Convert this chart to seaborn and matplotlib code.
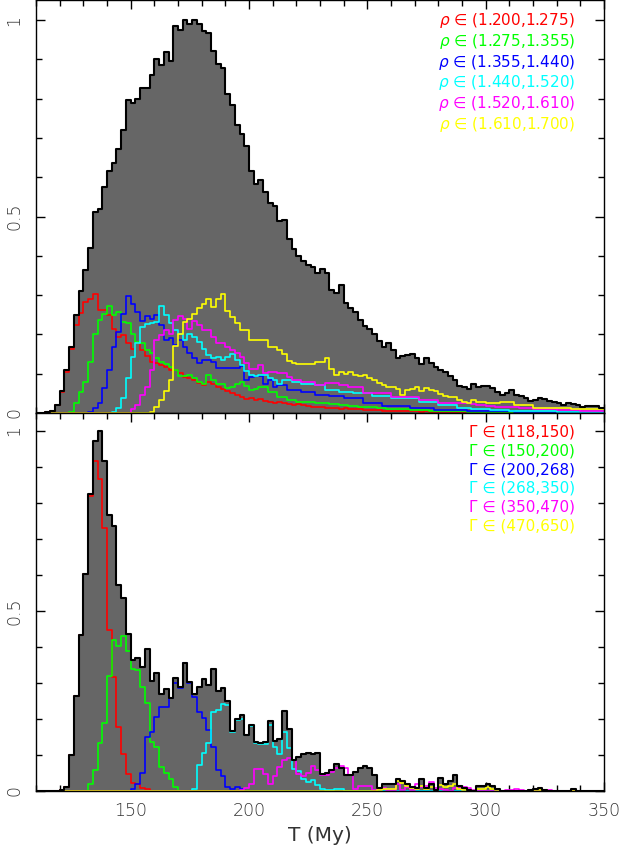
import numpy as np
import pandas as pd
import matplotlib
matplotlib.use("Agg")
import matplotlib.pyplot as plt
import seaborn as sns
from matplotlib.ticker import MultipleLocator, FixedLocator, FixedFormatter

# ---------------- data (2 My bins from 110 to 350) ----------------
bin_start = 110
bin_width = 2
n_bins = 120

# top panel: rho classes
top_total = [
    0, 0, 0.003, 0.006, 0.02, 0.055, 0.109, 0.168, 0.249, 0.311,
    0.365, 0.421, 0.511, 0.52, 0.575, 0.617, 0.636, 0.671, 0.72, 0.797,
    0.79, 0.80, 0.827, 0.826, 0.86, 0.90, 0.887, 0.92, 0.897, 0.984,
    0.975, 1.0, 0.99, 1.0, 0.99, 0.973, 0.967, 0.922, 0.888, 0.877,
    0.812, 0.785, 0.733, 0.71, 0.679, 0.615, 0.583, 0.594, 0.562, 0.535,
    0.526, 0.489, 0.49, 0.442, 0.418, 0.399, 0.386, 0.376, 0.372, 0.356,
    0.367, 0.356, 0.312, 0.306, 0.325, 0.279, 0.268, 0.256, 0.236, 0.221,
    0.215, 0.202, 0.184, 0.167, 0.177, 0.16, 0.141, 0.145, 0.147, 0.149,
    0.139, 0.126, 0.139, 0.128, 0.118, 0.109, 0.105, 0.094, 0.084, 0.069,
    0.067, 0.06, 0.075, 0.067, 0.069, 0.069, 0.063, 0.054, 0.046, 0.052,
    0.058, 0.046, 0.043, 0.039, 0.031, 0.033, 0.039, 0.035, 0.03, 0.029,
    0.025, 0.02, 0.025, 0.022, 0.02, 0.016, 0.019, 0.019, 0.018, 0.013,
]
top_red = [
    0, 0, 0.003, 0.006, 0.02, 0.054, 0.105, 0.164, 0.224, 0.255,
    0.283, 0.289, 0.302, 0.262, 0.262, 0.249, 0.213, 0.194, 0.198, 0.179,
    0.164, 0.177, 0.16, 0.145, 0.13, 0.126, 0.122, 0.118, 0.109, 0.11,
    0.102, 0.092, 0.088, 0.084, 0.077, 0.071, 0.08, 0.075, 0.065, 0.06,
    0.055, 0.05, 0.047, 0.04, 0.035, 0.038, 0.033, 0.035, 0.03, 0.028,
    0.025, 0.027, 0.025, 0.022, 0.02, 0.022, 0.02, 0.018, 0.016, 0.015,
    0.014, 0.013, 0.012, 0.013, 0.011, 0.012, 0.01, 0.009, 0.01, 0.008,
    0.008, 0.007, 0.007, 0.006, 0.006, 0.005, 0.005, 0.004, 0.005, 0.004,
    0.004, 0.003, 0.004, 0.003, 0.003, 0.003, 0.002, 0.003, 0.002, 0.002,
    0.002, 0.002, 0.002, 0.002, 0.001, 0.002, 0.001, 0.001, 0.001, 0.001,
    0.001, 0.001, 0.001, 0.001, 0.001, 0.001, 0.001, 0.001, 0.001, 0.001,
    0.001, 0.001, 0.001, 0.001, 0.001, 0.001, 0.001, 0.001, 0.001, 0.001,
]
top_green = [
    0, 0, 0, 0, 0, 0, 0, 0.003, 0.025, 0.054,
    0.08, 0.13, 0.2, 0.236, 0.253, 0.272, 0.249, 0.257, 0.232, 0.228,
    0.2, 0.18, 0.177, 0.16, 0.152, 0.139, 0.13, 0.126, 0.118, 0.109,
    0.093, 0.093, 0.098, 0.09, 0.08, 0.075, 0.097, 0.084, 0.075, 0.075,
    0.063, 0.067, 0.075, 0.08, 0.069, 0.058, 0.06, 0.067, 0.067, 0.054,
    0.054, 0.041, 0.041, 0.033, 0.033, 0.029, 0.029, 0.029, 0.029, 0.025,
    0.025, 0.025, 0.024, 0.022, 0.02, 0.02, 0.018, 0.017, 0.016, 0.016,
    0.015, 0.014, 0.013, 0.012, 0.011, 0.01, 0.01, 0.009, 0.009, 0.008,
    0.008, 0.007, 0.007, 0.006, 0.006, 0.005, 0.005, 0.005, 0.004, 0.004,
    0.004, 0.003, 0.003, 0.003, 0.003, 0.003, 0.002, 0.002, 0.002, 0.002,
    0.002, 0.002, 0.002, 0.002, 0.002, 0.002, 0.002, 0.002, 0.002, 0.002,
    0.001, 0.001, 0.001, 0.001, 0.001, 0.001, 0.001, 0.001, 0.001, 0.001,
]
top_blue = [
    0, 0, 0, 0, 0, 0, 0, 0, 0, 0,
    0, 0.003, 0.012, 0.025, 0.063, 0.109, 0.168, 0.207, 0.253, 0.297,
    0.277, 0.257, 0.235, 0.246, 0.24, 0.249, 0.224, 0.185, 0.19, 0.173,
    0.187, 0.168, 0.152, 0.139, 0.128, 0.135, 0.135, 0.13, 0.115, 0.115,
    0.115, 0.115, 0.115, 0.119, 0.084, 0.092, 0.094, 0.094, 0.075, 0.084,
    0.067, 0.071, 0.071, 0.058, 0.058, 0.058, 0.054, 0.054, 0.054, 0.046,
    0.046, 0.046, 0.043, 0.043, 0.043, 0.037, 0.037, 0.037, 0.037, 0.025,
    0.025, 0.025, 0.025, 0.018, 0.018, 0.018, 0.018, 0.018, 0.018, 0.012,
    0.012, 0.012, 0.012, 0.012, 0.008, 0.008, 0.008, 0.008, 0.008, 0.007,
    0.007, 0.006, 0.006, 0.006, 0.005, 0.005, 0.005, 0.004, 0.004, 0.004,
    0.004, 0.003, 0.003, 0.003, 0.003, 0.003, 0.002, 0.002, 0.002, 0.002,
    0.002, 0.002, 0.002, 0.002, 0.002, 0.002, 0.002, 0.002, 0.002, 0.002,
]
top_cyan = [
    0, 0, 0, 0, 0, 0, 0, 0, 0, 0,
    0, 0, 0, 0, 0, 0, 0.002, 0.012, 0.037, 0.088,
    0.143, 0.177, 0.219, 0.226, 0.228, 0.232, 0.272, 0.249, 0.228, 0.211,
    0.2, 0.186, 0.202, 0.194, 0.181, 0.164, 0.147, 0.139, 0.143, 0.136,
    0.143, 0.15, 0.135, 0.122, 0.107, 0.097, 0.094, 0.097, 0.097, 0.088,
    0.084, 0.075, 0.084, 0.084, 0.08, 0.08, 0.075, 0.075, 0.075, 0.071,
    0.071, 0.058, 0.058, 0.058, 0.054, 0.054, 0.054, 0.05, 0.05, 0.05,
    0.05, 0.043, 0.043, 0.043, 0.043, 0.037, 0.037, 0.037, 0.037, 0.037,
    0.037, 0.029, 0.029, 0.029, 0.029, 0.02, 0.02, 0.02, 0.02, 0.012,
    0.012, 0.012, 0.01, 0.01, 0.009, 0.009, 0.008, 0.008, 0.007, 0.007,
    0.006, 0.006, 0.006, 0.005, 0.005, 0.005, 0.004, 0.004, 0.004, 0.004,
    0.003, 0.003, 0.003, 0.003, 0.003, 0.003, 0.003, 0.003, 0.003, 0.003,
]
top_magenta = [
    0, 0, 0, 0, 0, 0, 0, 0, 0, 0,
    0, 0, 0, 0, 0, 0, 0, 0, 0, 0,
    0.009, 0.02, 0.046, 0.067, 0.109, 0.185, 0.198, 0.211, 0.202, 0.236,
    0.246, 0.24, 0.215, 0.234, 0.224, 0.211, 0.211, 0.194, 0.179, 0.177,
    0.168, 0.16, 0.152, 0.143, 0.126, 0.113, 0.113, 0.122, 0.101, 0.105,
    0.105, 0.101, 0.101, 0.092, 0.084, 0.084, 0.08, 0.08, 0.08, 0.071,
    0.071, 0.077, 0.077, 0.077, 0.071, 0.071, 0.065, 0.065, 0.065, 0.05,
    0.05, 0.05, 0.05, 0.05, 0.05, 0.041, 0.041, 0.041, 0.041, 0.041,
    0.041, 0.033, 0.033, 0.033, 0.033, 0.025, 0.025, 0.025, 0.025, 0.025,
    0.025, 0.025, 0.022, 0.02, 0.02, 0.018, 0.018, 0.016, 0.016, 0.015,
    0.015, 0.014, 0.013, 0.012, 0.012, 0.011, 0.01, 0.01, 0.009, 0.009,
    0.008, 0.008, 0.007, 0.007, 0.007, 0.006, 0.006, 0.006, 0.005, 0.005,
]
top_yellow = [
    0, 0, 0, 0, 0, 0, 0, 0, 0, 0,
    0, 0, 0, 0, 0, 0, 0, 0, 0, 0,
    0, 0, 0, 0, 0.003, 0.014, 0.033, 0.057, 0.084, 0.17,
    0.202, 0.232, 0.24, 0.253, 0.266, 0.277, 0.291, 0.27, 0.291, 0.304,
    0.26, 0.245, 0.229, 0.211, 0.211, 0.187, 0.187, 0.185, 0.185, 0.168,
    0.168, 0.16, 0.15, 0.133, 0.127, 0.124, 0.124, 0.124, 0.124, 0.13,
    0.13, 0.139, 0.113, 0.097, 0.105, 0.099, 0.105, 0.097, 0.094, 0.097,
    0.088, 0.084, 0.077, 0.071, 0.067, 0.065, 0.06, 0.046, 0.058, 0.06,
    0.065, 0.057, 0.063, 0.058, 0.057, 0.048, 0.043, 0.041, 0.04, 0.033,
    0.029, 0.026, 0.033, 0.029, 0.029, 0.025, 0.025, 0.025, 0.029, 0.029,
    0.029, 0.02, 0.02, 0.02, 0.02, 0.014, 0.014, 0.014, 0.014, 0.014,
    0.014, 0.014, 0.014, 0.009, 0.009, 0.009, 0.009, 0.009, 0.009, 0.009,
]

# bottom panel: Gamma classes
bot_total = [
    0, 0, 0, 0, 0, 0.002, 0.012, 0.1, 0.264, 0.434,
    0.603, 0.826, 0.971, 1.0, 0.916, 0.767, 0.735, 0.571, 0.536, 0.437,
    0.364, 0.369, 0.344, 0.394, 0.306, 0.329, 0.269, 0.283, 0.258, 0.313,
    0.29, 0.356, 0.303, 0.269, 0.289, 0.31, 0.294, 0.34, 0.278, 0.285,
    0.249, 0.167, 0.201, 0.21, 0.155, 0.183, 0.136, 0.132, 0.136, 0.194,
    0.14, 0.145, 0.223, 0.173, 0.085, 0.095, 0.102, 0.106, 0.102, 0.106,
    0.048, 0.05, 0.057, 0.076, 0.064, 0.045, 0.045, 0.053, 0.065, 0.07,
    0.065, 0.045, 0.009, 0.02, 0.02, 0.02, 0.032, 0.027, 0.02, 0.011,
    0.009, 0.032, 0.009, 0.02, 0.004, 0.036, 0.02, 0.028, 0.044, 0.013,
    0.009, 0.004, 0, 0.013, 0.013, 0.02, 0.013, 0.006, 0, 0,
    0, 0, 0, 0, 0.004, 0.006, 0.009, 0.004, 0, 0,
    0, 0, 0, 0.005, 0, 0, 0, 0, 0, 0,
]
bot_red = [
    0, 0, 0, 0, 0, 0.002, 0.012, 0.1, 0.264, 0.434,
    0.603, 0.82, 0.918, 0.866, 0.73, 0.446, 0.316, 0.179, 0.103, 0.047,
    0.023, 0.019, 0.007, 0.005, 0, 0, 0, 0, 0, 0,
] + [0] * 90
bot_green = [
    0, 0, 0, 0, 0, 0, 0, 0, 0, 0,
    0, 0.019, 0.057, 0.133, 0.188, 0.32, 0.42, 0.404, 0.431, 0.389,
    0.338, 0.335, 0.288, 0.244, 0.137, 0.123, 0.068, 0.051, 0.032, 0.011,
] + [0] * 90
bot_blue = [0] * 20 + [
    0.005, 0.019, 0.051, 0.149, 0.165, 0.205, 0.234, 0.233, 0.258, 0.3,
    0.287, 0.356, 0.3, 0.26, 0.22, 0.204, 0.169, 0.122, 0.057, 0.041,
    0.011, 0.006, 0.011, 0.006, 0, 0, 0, 0, 0, 0,
] + [0] * 70
bot_cyan = [0] * 30 + [
    0, 0, 0, 0.006, 0.071, 0.106, 0.132, 0.22, 0.224, 0.243,
    0.238, 0.164, 0.196, 0.2, 0.155, 0.18, 0.133, 0.13, 0.13, 0.183,
    0.122, 0.104, 0.164, 0.12, 0.06, 0.056, 0.034, 0.025, 0.03, 0.016,
    0.006, 0.004, 0.004, 0.006, 0.006, 0, 0, 0, 0, 0,
] + [0] * 50
bot_magenta = [0] * 40 + [
    0, 0, 0, 0.004, 0.009, 0.02, 0.06, 0.06, 0.048, 0.02,
    0.041, 0.067, 0.085, 0.093, 0.085, 0.046, 0.041, 0.05, 0.07, 0.058,
    0.045, 0.045, 0.053, 0.065, 0.07, 0.065, 0.045, 0.006, 0.014, 0.014,
    0.014, 0.004, 0.005, 0.007, 0.004, 0.004, 0.019, 0.004, 0.01, 0.002,
    0.02, 0.01, 0.014, 0.025, 0.007, 0.005, 0.002, 0, 0.007, 0.007,
    0.01, 0.007, 0.003, 0, 0, 0, 0, 0, 0, 0.002,
    0.003, 0.005, 0.002, 0, 0, 0, 0, 0, 0.003, 0,
    0, 0, 0, 0, 0, 0, 0, 0, 0, 0,
]
bot_yellow = [0] * 70 + [
    0, 0, 0.003, 0.006, 0.006, 0.006, 0.028, 0.022, 0.013, 0.007,
    0.005, 0.013, 0.005, 0.01, 0.002, 0.016, 0.01, 0.014, 0.019, 0.006,
    0.004, 0.002, 0, 0.006, 0.006, 0.01, 0.006, 0.003, 0, 0,
    0, 0, 0, 0, 0.002, 0.003, 0.004, 0.002, 0, 0,
    0, 0, 0, 0.002, 0, 0, 0, 0, 0, 0,
]

top_labels = [r"$\rho$ ∈ (1.200,1.275)", r"$\rho$ ∈ (1.275,1.355)",
              r"$\rho$ ∈ (1.355,1.440)", r"$\rho$ ∈ (1.440,1.520)",
              r"$\rho$ ∈ (1.520,1.610)", r"$\rho$ ∈ (1.610,1.700)"]
bot_labels = ["Γ ∈ (118,150)", "Γ ∈ (150,200)", "Γ ∈ (200,268)",
              "Γ ∈ (268,350)", "Γ ∈ (350,470)", "Γ ∈ (470,650)"]
series_colors = ["#ff0000", "#00ff00", "#0000ff", "#00ffff", "#ff00ff", "#ffff00"]
x_ticks = [150, 200, 250, 300, 350]
y_ticks = [0, 0.5, 1]
y_tick_labels = ["0", "0.5", "1"]
x_label = "T (My)"

# ---------------- drawing ----------------
sns.set_style("ticks")
plt.rcParams["font.family"] = ["DejaVu Sans", "Noto Sans"]
plt.rcParams["font.weight"] = "light"
plt.rcParams["mathtext.fontset"] = "dejavusans"

edges = [float(bin_start + bin_width * i) for i in range(n_bins + 1)]
centers = [bin_start + bin_width * i + bin_width / 2 for i in range(n_bins)]

fig = plt.figure(figsize=(6.22, 8.5), dpi=100)
W, H = 622.0, 850.0
left, right = 36 / W, 604 / W
ax1 = fig.add_axes([left, (H - 413) / H, right - left, 412.5 / H])
ax2 = fig.add_axes([left, (H - 791) / H, right - left, (791 - 413) / H])

GREY = "#666666"


def hist(ax, vals, **kw):
    df = pd.DataFrame({"T": centers, "w": vals})
    sns.histplot(data=df, x="T", weights="w", bins=edges, element="step",
                 ax=ax, **kw)


def draw_panel(ax, total, series, labels, label_rows):
    hist(ax, total, fill=True, color=GREY, alpha=1, linewidth=0)
    for vals, col in zip(series, series_colors):
        hist(ax, vals, fill=False, color=col, linewidth=1.2)
    hist(ax, total, fill=False, color="black", linewidth=1.5)
    ax.set_xlim(110, 350)
    ax.set_ylim(0, 1.05)
    ax.set_xlabel("")
    ax.set_ylabel("")
    ax.xaxis.set_major_locator(FixedLocator(x_ticks))
    ax.xaxis.set_minor_locator(MultipleLocator(10))
    ax.yaxis.set_major_locator(FixedLocator(y_ticks))
    ax.yaxis.set_major_formatter(FixedFormatter(y_tick_labels))
    ax.yaxis.set_minor_locator(MultipleLocator(0.1))
    ax.tick_params(which="both", direction="in", top=True, right=True,
                   width=1.0, color="black")
    ax.tick_params(which="major", length=6.5)
    ax.tick_params(which="minor", length=4.5)
    ax.tick_params(axis="y", which="major", pad=9, labelsize=12.5)
    ax.tick_params(axis="x", which="major", pad=8, labelsize=12.5)
    for lab in ax.get_yticklabels():
        lab.set_rotation(90)
        lab.set_va("center")
        lab.set_color("#333333")
    for s in ax.spines.values():
        s.set_linewidth(1.0)
        s.set_color("black")
        s.set_zorder(5)
    for lab, col, yf in zip(labels, series_colors, label_rows):
        ax.text(0.949, yf, lab, color=col, ha="right", va="center",
                fontsize=11, fontweight="normal",
                family=["DejaVu Sans", "Noto Sans"],
                transform=ax.transAxes)


top_rows = [(413 - y) / 413 for y in (20, 41, 62, 82, 103, 124)]
bot_rows = [(791 - y) / 378 for y in (432, 451, 470, 488, 507, 526)]

draw_panel(ax1, top_total,
           [top_red, top_green, top_blue, top_cyan, top_magenta, top_yellow],
           top_labels, top_rows)
draw_panel(ax2, bot_total,
           [bot_red, bot_green, bot_blue, bot_cyan, bot_magenta, bot_yellow],
           bot_labels, bot_rows)

ax1.tick_params(axis="x", labelbottom=False)
for lab in ax2.get_xticklabels():
    lab.set_color("#333333")
ax2.set_xlabel(x_label, fontsize=14.5, labelpad=4, color="#333333")

fig.savefig("out.png", dpi=100)
